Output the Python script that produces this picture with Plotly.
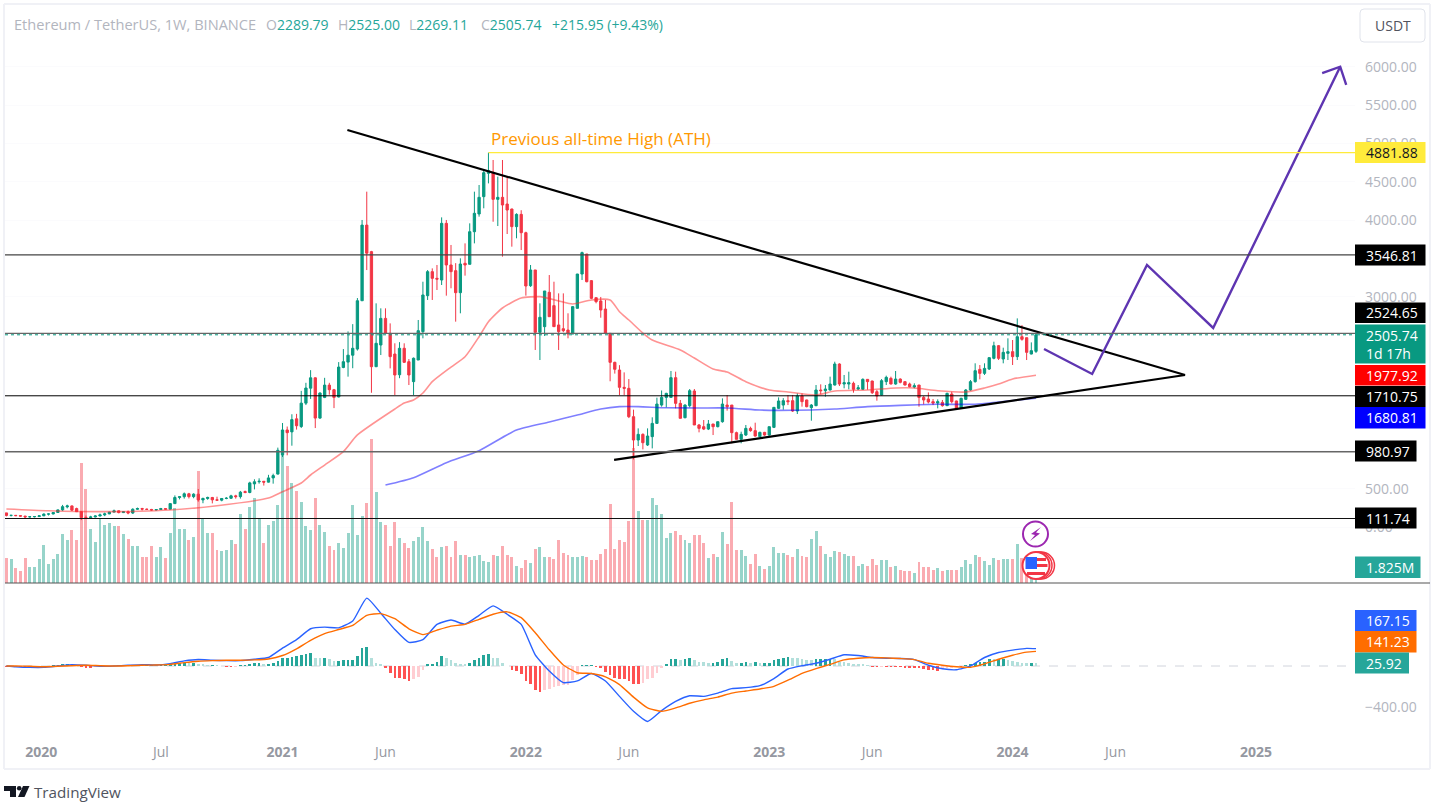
import pandas as pd
import plotly.graph_objects as go

W, H = 1436, 805
weeks = pd.date_range("2019-11-18", periods=221, freq="7D")

opens = [184,151,152,148,142,132,134,136,146,168,
170,189,223,262,275,240,200,124,122,131,
143,158,171,194,211,188,199,182,231,241,
233,229,222,228,240,233,305,385,395,433,
396,428,353,372,385,354,350,372,375,406,
396,462,450,562,590,596,585,640,690,940,
1265,1240,1410,1310,1615,1810,1945,1420,1690,1850,
1790,1695,2080,2150,2240,2320,2950,3936,3590,2090,
2373,2720,2525,2255,1985,2330,2155,1895,2177,2547,
3016,3329,3242,3220,3959,3416,3342,3055,3438,3425,
3850,4081,4307,4611,4624,4272,4298,4211,4146,3916,
4076,3837,3146,3351,2538,2612,3060,2886,2634,2585,
2568,2516,2851,3298,3559,3212,2990,2946,2842,2525,
2147,2047,1821,1808,1438,
1134,1208,1069,1178,1351,1590,1690,1690,1947,1612,1425,1582,1773,1330,1308,1277,1343,1308,1373,1590,1590,1230,1143,1199,1286,1256,1178,1234,1199,1299,1547,1590,1647,1647,1512,1708,1656,1556,1582,1786,1777,1786,1851,2125,1864,1864,1873,1799,1795,1925,1903,1764,1721,1895,1938,1864,1929,1895,1864,1825,1851,1690,1669,1634,1616,1625,1582,1734,1643,1547,1664,1786,1895,2055,2003,2060,2199,2364,2190,2264,2286,2221,2481,2468,2255,2289.79]

highs = [184,157,153,152,146,135,139,150,178,175,
190,228,288,291,280,252,202,150,146,152,
175,187,198,227,215,207,215,244,253,250,
240,236,232,249,242,310,412,398,450,445,
440,495,383,395,392,395,377,390,420,420,
470,475,590,622,635,600,680,695,1035,1356,
1310,1470,1475,1775,1880,2045,1950,1755,1945,1880,
1800,2150,2320,2550,2645,2985,4003,4372,3600,2916,
2851,2851,2655,2395,2410,2395,2190,2210,2699,3198,
3350,3372,3416,4037,4003,3677,3440,3503,3698,3959,
4372,4459,4654,4881.88,4785,4568,4785,4568,4150,4090,
4130,3850,3416,3351,2916,3077,3285,3198,3046,3046,
2786,2880,3300,3590,3559,3220,2990,2999,2960,2525,
2155,2110,2016,1929,1530,
1286,1221,1286,1430,1686,1780,1750,2034,2025,1656,1600,1799,1799,1343,1395,1395,1343,1373,1677,1721,1590,1243,1243,1330,1308,1360,1243,1240,1308,1560,1690,1680,1721,1721,1742,1742,1660,1603,1851,1860,1851,1960,2155,2134,1982,2025,1895,1851,1938,1929,1908,1786,1929,1973,1960,2034,1938,1895,1882,1873,1851,1708,1755,1669,1664,1656,1751,1764,1647,1686,1799,1916,2134,2112,2134,2212,2416,2373,2338,2460,2438,2720,2633,2468,2407,2525]

lows = [138,137,142,136,117,123,125,135,142,150,
165,187,210,243,209,195,90,116,120,125,
139,142,167,190,178,182,166,170,224,215,
223,215,215,225,229,232,300,360,370,372,
375,330,310,355,308,340,335,362,365,370,
370,440,440,490,565,540,580,565,685,913,
935,1060,1270,1290,1590,1670,1290,1410,1680,1725,
1550,1690,2070,1960,2070,2300,2950,3350,1750,2085,
2242,2525,2068,1721,1940,2140,1851,1721,2177,2460,
2960,2960,3090,3155,3016,3112,2677,2786,3277,3425,
3698,4046,4155,4480,3980,3924,3525,3820,3655,3764,
3611,3016,3130,2308,2177,2490,2742,2612,2308,2540,
2460,2516,2851,3220,3190,2970,2916,2729,2515,1900,
2000,1721,1720,1420,881,
1056,1012,1056,1025,1351,1569,1560,1690,1547,1417,1417,1560,1330,1234,1264,1264,1199,1299,1360,1517,1091,1143,1091,1186,1243,1178,1178,1190,1190,1290,1540,1530,1590,1500,1473,1569,1560,1386,1575,1729,1699,1780,1845,1838,1808,1795,1751,1786,1786,1790,1734,1647,1716,1851,1860,1855,1873,1847,1821,1808,1569,1599,1612,1590,1547,1569,1577,1612,1538,1538,1656,1777,1882,1925,1982,2047,2186,2177,2134,2177,2112,2177,2429,2177,2251,2269.11]

closes = [151,152,148,142,132,134,136,146,168,170,
189,223,265,275,220,200,123,122,131,143,
158,171,194,211,188,199,182,231,241,233,
229,222,228,240,233,305,385,395,433,396,
428,353,372,385,354,350,372,375,406,396,
454,450,575,590,596,585,640,670,1000,1265,
1230,1400,1320,1615,1812,1945,1420,1747,1850,1790,
1690,2085,2155,2240,2330,2950,3936,3570,2090,2395,
2720,2525,2221,1982,2330,2147,1982,2200,2560,3025,
3329,3242,3232,3959,3416,3329,3055,3429,3416,3850,
4090,4298,4620,4646,4272,4298,4198,4133,3916,4076,
3837,3142,3351,2538,2734,3077,2742,2612,2547,2560,
2516,2873,3298,3577,3198,2981,2938,2829,2525,2147,
2056,1821,1808,1438,1134,
1208,1099,1186,1351,1603,1690,1742,1947,1612,1417,1590,1777,1330,1286,1277,1343,1308,1373,1603,1569,1230,1143,1208,1286,1256,1186,1234,1199,1308,1560,1643,1647,1634,1512,1708,1634,1569,1590,1786,1777,1799,1864,2125,1864,1882,1882,1795,1816,1925,1895,1751,1708,1908,1951,1864,1929,1886,1851,1829,1842,1690,1656,1630,1616,1634,1582,1742,1634,1547,1677,1786,1895,2038,2003,2068,2208,2364,2199,2277,2286,2221,2481,2447,2277,2299,2505.74]

volumes = [1.98,1.87,1.17,.94,1.98,1.25,1.25,1.90,2.99,1.51,1.90,2.29,3.85,3.38,4.16,3.33,9.36,7.31,4.24,3.22,
5.07,4.50,4.71,4.42,4.42,3.85,3.46,2.91,2.91,2.03,2.03,2.91,2.03,2.83,1.95,3.93,5.88,4.24,4.24,3.38,
3.59,8.74,4.97,3.93,3.93,2.60,2.50,2.60,3.33,3.07,5.36,4.24,5.93,6.68,5.07,3.15,4.50,4.81,6.06,10.09,
9.13,7.85,7.15,6.29,4.42,4.16,6.68,4.50,4.00,2.91,2.60,3.15,2.76,3.93,
6.08,3.72,5.23,6.24,11.28,7.10,4.73,4.50,2.91,4.73,3.48,3.09,2.70,3.30,3.61,4.34,3.30,2.68,2.05,2.78,
2.91,2.00,3.30,2.21,2.21,2.00,2.13,2.21,1.74,1.64,2.21,2.13,2.91,2.21,2.00,1.35,1.20,1.82,1.59,2.63,
2.78,2.00,2.00,1.90,3.33,2.37,2.21,2.05,2.05,2.13,2.00,1.82,1.82,2.29,2.63,6.16,2.63,3.33,3.17,4.84,10.53,
5.64,4.94,4.94,6.63,6.08,5.41,3.51,3.90,4.08,3.74,3.38,3.12,3.74,3.74,3.12,1.95,2.26,2.00,3.98,3.04,6.34,
2.57,2.57,2.13,1.51,2.26,1.35,1.12,1.30,2.81,2.34,2.34,2.16,2.03,2.65,2.08,2.00,3.43,4.06,2.86,2.26,2.03,
2.47,2.42,2.26,2.13,2.08,1.30,1.51,1.30,1.85,1.43,1.77,1.77,1.22,1.35,1.04,.91,.96,.78,1.64,1.22,1.22,.99,
1.14,.91,1.04,1.04,1.04,1.25,1.77,1.51,2.16,2.03,1.69,1.43,1.95,1.82,1.87,1.87,1.87,3.04,1.95,1.56,1.30,1.825]

ma50_idx = [0,9,20,35,45,56,59,63,65,68,72,75,83,85,87,89,91,95,98,101,103,106,110,114,118,121,125,129,131,133,136,138,144,147,151,154,158,163,167,173,177,184,190,194,199,205,209,212,215,220]
ma50_val = [235,212,200,222,278,378,460,574,678,808,982,1200,1538,1616,1656,1747,1895,2085,2220,2481,2677,2855,2985,3003,2947,2907,2960,2960,2807,2699,2529,2438,2308,2203,2060,2020,1895,1786,1760,1721,1773,1786,1812,1812,1777,1760,1812,1864,1930,1977.92]
ma200_idx = [81,87,94,101,109,116,122,127,131,135,141,148,154,161,165,172,177,184,191,199,207,212,220]
ma200_val = [547,643,838,995,1265,1370,1460,1538,1569,1569,1555,1552,1552,1525,1521,1525,1538,1569,1586,1600,1600,1630,1680.81]

macd_idx = [0] + list(range(2, 219, 3)) + [220]
macd_line = [0,-7,-13,-13,0,13,7,-3,0,7,13,10,23,49,62,55,52,52,65,82,173,254,359,375,368,434,655,509,352,228,254,401,443,404,489,580,499,401,108,
-49,-160,-144,-72,-144,-293,-437,-535,-430,-342,-287,-293,-261,-218,-209,-190,-121,-29,3,26,65,108,101,82,75,72,62,7,-26,-36,0,82,130,153,170,167.15]
signal_line = [0,0,-3,-7,-3,3,7,3,0,3,7,10,16,33,46,52,55,55,59,68,101,166,248,313,352,391,489,505,456,359,303,346,385,401,450,499,522,466,321,
156,10,-65,-72,-104,-179,-300,-404,-437,-404,-359,-326,-300,-261,-241,-222,-196,-137,-72,-26,16,59,75,82,78,72,62,26,7,-7,-13,20,65,104,134,141.23]
macd_hist = [-3,-3,-3,-3,-3,-3,-3,-3,-3,0,3,7,10,10,7,3,-3,-10,-10,-7,-3,-3,0,0,3,3,3,3,3,3,7,7,3,7,7,
20,20,26,33,26,26,16,10,7,7,3,0,-3,-7,-3,3,7,20,26,26,20,23,26,46,75,82,91,98,104,114,124,82,75,75,69,46,52,55,55,55,98,173,183,82,33,13,
-23,-65,-114,-114,-121,-143,-127,-104,-39,10,20,39,98,82,62,26,20,13,33,55,75,104,114,82,75,33,0,-39,-49,
-81,-143,-176,-235,-251,-228,-219,-202,-196,-186,-179,-137,-88,2,7,7,-3,-13,-55,-88,-111,-130,-130,-143,-176,-176,-163,-130,-111,-65,-16,20,65,65,59,68,75,59,42,36,33,33,42,68,75,49,33,33,36,33,36,33,33,33,59,72,82,91,82,75,65,62,59,65,65,68,72,68,42,39,33,23,16,13,7,-7,-7,-3,-3,-3,-7,-7,-10,-13,-13,-20,-33,-39,-42,-49,-26,-13,-10,-7,-7,7,20,33,39,42,72,65,65,65,55,52,42,33,29,29,25.92]

upper_dates = ["2021-04-11", "2024-09-15"]
upper_vals = [5176, 1982]
lower_dates = ["2022-05-15", "2024-09-15"]
lower_vals = [874, 1982]
path_dates = ["2024-02-17", "2024-04-29", "2024-07-20", "2024-10-27", "2025-05-05"]
path_vals = [2321, 1995, 3416, 2595, 6001]
head_dates = ["2025-04-08", "2025-05-05", "2025-05-14"]
head_vals = [5919, 6001, 5763]

level_prices = [3546.81, 2524.65, 1710.75, 980.97, 111.74]
ath_price = 4881.88
ath_date = "2021-11-08"
last_close = 2505.74

price_ticks = [0, 500, 1000, 3000, 4000, 4500, 5000, 5500, 6000]
time_dates = ["2020-01-09", "2020-07-06", "2021-01-04", "2021-06-07", "2022-01-03", "2022-06-06", "2023-01-02", "2023-06-05", "2024-01-01", "2024-06-03", "2024-12-30"]
time_text = ["<b>2020</b>", "Jul", "<b>2021</b>", "Jun", "<b>2022</b>", "Jun", "<b>2023</b>", "Jun", "<b>2024</b>", "Jun", "<b>2025</b>"]

FONT = "Open Sans"
UP, DOWN = "#089981", "#f23645"
GREY = "#b2b5be"

def px(x): return x / W
def py(y): return 1 - y / H

last = pd.Timestamp("2024-02-05")
def at(x):
    return last + pd.Timedelta(days=(x - 1036) / 4.68 * 7)

fig = go.Figure()

vol_colors = ["rgba(8,153,129,0.42)" if c >= o else "rgba(242,54,69,0.42)" for o, c in zip(opens, closes)]
fig.add_bar(x=weeks, y=volumes, marker_color=vol_colors, marker_line_width=0,
            width=4.4 * 86400000, xaxis="x", yaxis="y", hoverinfo="skip")

fig.add_candlestick(x=weeks, open=opens, high=highs, low=lows, close=closes,
                    xaxis="x", yaxis="y2", whiskerwidth=0, hoverinfo="skip",
                    increasing=dict(line=dict(color=UP, width=1), fillcolor=UP),
                    decreasing=dict(line=dict(color=DOWN, width=1), fillcolor=DOWN))
fig.add_scatter(x=weeks[ma50_idx], y=ma50_val, mode="lines", yaxis="y2", hoverinfo="skip",
                line=dict(color="rgba(255,40,40,0.5)", width=1.6, shape="spline", smoothing=0.6))
fig.add_scatter(x=weeks[ma200_idx], y=ma200_val, mode="lines", yaxis="y2", hoverinfo="skip",
                line=dict(color="rgba(0,0,255,0.5)", width=1.6, shape="spline", smoothing=0.6))
fig.add_scatter(x=upper_dates, y=upper_vals, mode="lines", yaxis="y2", hoverinfo="skip",
                line=dict(color="#000000", width=2.2))
fig.add_scatter(x=lower_dates, y=lower_vals, mode="lines", yaxis="y2", hoverinfo="skip",
                line=dict(color="#000000", width=2.2))
fig.add_scatter(x=path_dates, y=path_vals, mode="lines", yaxis="y2", hoverinfo="skip",
                line=dict(color="#5e35b1", width=2.4))
fig.add_scatter(x=head_dates, y=head_vals, mode="lines", yaxis="y2", hoverinfo="skip",
                line=dict(color="#5e35b1", width=2.4))

hist_colors = []
for i, v in enumerate(macd_hist):
    p = macd_hist[i - 1] if i else v
    if v >= 0:
        hist_colors.append("#26a69a" if v >= p else "#b2dfdb")
    else:
        hist_colors.append("#ff5252" if v <= p else "#ffcdd2")
fig.add_bar(x=weeks, y=macd_hist, marker_color=hist_colors, marker_line_width=0,
            width=4.0 * 86400000, yaxis="y3", hoverinfo="skip")
fig.add_scatter(x=weeks[macd_idx], y=macd_line, mode="lines", yaxis="y3", hoverinfo="skip",
                line=dict(color="#2962ff", width=1.4, shape="spline", smoothing=0.5))
fig.add_scatter(x=weeks[macd_idx], y=signal_line, mode="lines", yaxis="y3", hoverinfo="skip",
                line=dict(color="#ff6d00", width=1.4, shape="spline", smoothing=0.5))

shapes = []
annos = []

def hline(val, color, width, dash="solid", x0=5, yref="y2", layer="above"):
    shapes.append(dict(type="line", xref="paper", yref=yref, x0=px(x0), x1=px(1355),
                       y0=val, y1=val, layer=layer, line=dict(color=color, width=width, dash=dash)))

hline(last_close, UP, 1, "dot")
level_styles = [("#444444", 1.2), ("#666666", 1.4), ("#000000", 1), ("#666666", 1.6), ("#111111", 1.1)]
for lv, (c, w) in zip(level_prices, level_styles):
    hline(lv, c, w)
shapes.append(dict(type="line", xref="x", yref="y2", x0=ath_date, x1=at(1355),
                   y0=ath_price, y1=ath_price, line=dict(color="#ffeb3b", width=1.2)))
hline(0, "#d1d4dc", 1, "dash", yref="y3", layer="below")

def rect(x0, y0, x1, y1, fill, line=None, lw=0):
    shapes.append(dict(type="rect", xref="paper", yref="paper", x0=px(x0), x1=px(x1),
                       y0=py(y0), y1=py(y1), fillcolor=fill, layer="above",
                       line=dict(color=line or fill, width=lw)))

def text(x, y, s, color, size=14, anchor="left", bold=False):
    annos.append(dict(xref="paper", yref="paper", x=px(x), y=py(y), text=f"<b>{s}</b>" if bold else s,
                      showarrow=False, xanchor=anchor, yanchor="middle",
                      font=dict(family=FONT, size=size, color=color)))

# frame and pane separator
for a in [(4, 4, 1430, 4), (4, 4, 4, 769), (4, 769, 1430, 769), (1430, 4, 1430, 769)]:
    shapes.append(dict(type="line", xref="paper", yref="paper", x0=px(a[0]), x1=px(a[2]), y0=py(a[1]), y1=py(a[3]),
                       layer="above", line=dict(color="#f0f1f6", width=2)))
shapes.append(dict(type="line", xref="paper", yref="paper", x0=px(5), x1=px(1430), y0=py(583), y1=py(583),
                   layer="above", line=dict(color="#555555", width=1.2)))

# right-hand price labels
labels = [
    (142, 163, 1425.5, "#ffeb3b", "4881.88", "#131722"),
    (244.5, 265.5, 1425.5, "#000000", "3546.81", "#ffffff"),
    (302.5, 323, 1425.5, "#000000", "2524.65", "#ffffff"),
    (365, 385.5, 1425.5, "#ff0000", "1977.92", "#ffffff"),
    (386, 407, 1425.5, "#000000", "1710.75", "#ffffff"),
    (407, 428.5, 1425.5, "#0000ff", "1680.81", "#ffffff"),
    (440.5, 461.5, 1416.5, "#000000", "980.97", "#ffffff"),
    (507.5, 528.5, 1416.5, "#000000", "111.74", "#ffffff"),
    (556.5, 578, 1420.5, "#26a69a", "1.825M", "#ffffff"),
    (610, 631, 1416.5, "#2962ff", "167.15", "#ffffff"),
    (631, 652.5, 1416.5, "#ff6d00", "141.23", "#ffffff"),
    (652.5, 673.5, 1409, "#26a69a", "25.92", "#ffffff"),
]
for y0, y1, x1, c, s, tc in labels:
    rect(1355, y0, x1, y1, c)
    text(1364, (y0 + y1) / 2, s, tc)
rect(1355, 324.5, 1425.5, 363.5, UP)
text(1364, 335, "2505.74", "#ffffff")
text(1364, 353, "1d 17h", "#ffffff")

# USDT button
shapes.append(dict(type="path", xref="paper", yref="paper", layer="above",
    path=f"M {px(1364)},{py(9)} L {px(1421)},{py(9)} Q {px(1425)},{py(9)} {px(1425)},{py(13)} L {px(1425)},{py(38)} Q {px(1425)},{py(42)} {px(1421)},{py(42)} L {px(1364)},{py(42)} Q {px(1360)},{py(42)} {px(1360)},{py(38)} L {px(1360)},{py(13)} Q {px(1360)},{py(9)} {px(1364)},{py(9)} Z",
    fillcolor="#ffffff", line=dict(color="#e0e3eb", width=1)))
text(1392.5, 25.5, "USDT", "#50535e", anchor="center")

# header
text(12, 24, "Ethereum / TetherUS, 1W, BINANCE", GREY, size=14.6)
for x, s, v in [(264, "O", "2289.79"), (336, "H", "2525.00"), (407, "L", "2269.11"), (479, "C", "2505.74")]:
    text(x, 24, f'<span style="color:{GREY}">{s}</span><span style="color:#26a69a">{v}</span>', "#26a69a")
text(550, 24, "+215.95 (+9.43%)", "#26a69a")

# ATH note
annos.append(dict(xref="x", yref="y2", x=at(488.5), y=ath_price, yshift=14.5, text="Previous all-time High (ATH)",
                  showarrow=False, xanchor="left", yanchor="middle",
                  font=dict(family=FONT, size=17, color="#ff9800")))

# event badges
def circle(cx, cy, r, fill, line, lw):
    shapes.append(dict(type="circle", xref="paper", yref="paper", x0=px(cx - r), x1=px(cx + r),
                       y0=py(cy - r), y1=py(cy + r), fillcolor=fill, layer="above",
                       line=dict(color=line, width=lw)))

def poly(points, fill, line=None, lw=0):
    d = "M " + " L ".join(f"{px(a)},{py(b)}" for a, b in points) + " Z"
    shapes.append(dict(type="path", xref="paper", yref="paper", path=d, layer="above",
                       fillcolor=fill, line=dict(color=line or fill, width=lw)))

circle(1035.5, 534, 12.5, "#ffffff", "#9c27b0", 2)
poly([(1041, 527), (1031, 534), (1035, 535), (1030, 541), (1040, 533.5), (1036, 532.5)], "#9c27b0")
circle(1041, 565.5, 13.5, "#ffffff", "#f23645", 1.5)
circle(1038.5, 565.5, 13.5, "#ffffff", "#f23645", 1.5)
circle(1036, 565.5, 13.5, "#ffffff", "#f23645", 2)
rect(1025.5, 557, 1037, 569, "#2962ff")
rect(1037, 558, 1046, 561, "#f23645")
rect(1037, 564, 1047.5, 567, "#f23645")
rect(1027, 572, 1045, 575, "#f23645")

# TradingView mark
poly([(4, 786), (16, 786), (16, 797), (10, 797), (10, 791), (4, 791)], "#131722")
circle(19.2, 788.3, 2.3, "#131722", "#131722", 0)
poly([(23, 786), (29.5, 786), (24.5, 797), (18, 797)], "#131722")
text(32, 792, "TradingView", "#50535e", size=15.2)

left_date, right_date = at(5), at(1355)
price_y = lambda y: (527 - y) / 0.0767
macd_y = lambda y: (666 - y) / 0.1037

fig.update_layout(
    width=W, height=H, autosize=False, margin=dict(l=0, r=0, t=0, b=0),
    paper_bgcolor="#ffffff", plot_bgcolor="#ffffff", showlegend=False, bargap=0,
    shapes=shapes, annotations=annos,
    font=dict(family=FONT, size=14, color=GREY),
    xaxis=dict(type="date", domain=[px(5), px(1355)], range=[left_date, right_date], anchor="free",
               position=py(741), rangeslider=dict(visible=False), showgrid=False, zeroline=False,
               showline=False, tickmode="array", tickvals=time_dates, ticktext=time_text, ticks="",
               ticklabelstandoff=1, tickfont=dict(family=FONT, size=14, color="#9598a1")),
    yaxis=dict(domain=[py(583), py(4)], range=[0, 579 / 12.8], visible=False, fixedrange=True),
    yaxis2=dict(overlaying="y", side="right", anchor="x", range=[price_y(583), price_y(4)],
                tickmode="array", tickvals=price_ticks, tickformat=".2f", ticks="", showgrid=True,
                gridcolor="#fbfbfd", zeroline=False, showline=False, ticklabelstandoff=9,
                tickfont=dict(family=FONT, size=14, color=GREY)),
    yaxis3=dict(domain=[py(741), py(584)], anchor="x", side="right", range=[macd_y(741), macd_y(584)],
                tickmode="array", tickvals=[-400], ticktext=["\u2212400.00"], ticks="", showgrid=False,
                zeroline=False, showline=False, ticklabelstandoff=9,
                tickfont=dict(family=FONT, size=14, color=GREY)),
)

fig.write_html("out.html", config={"displayModeBar": False},
               post_script="document.body.style.margin='0';document.body.style.overflow='hidden';")
